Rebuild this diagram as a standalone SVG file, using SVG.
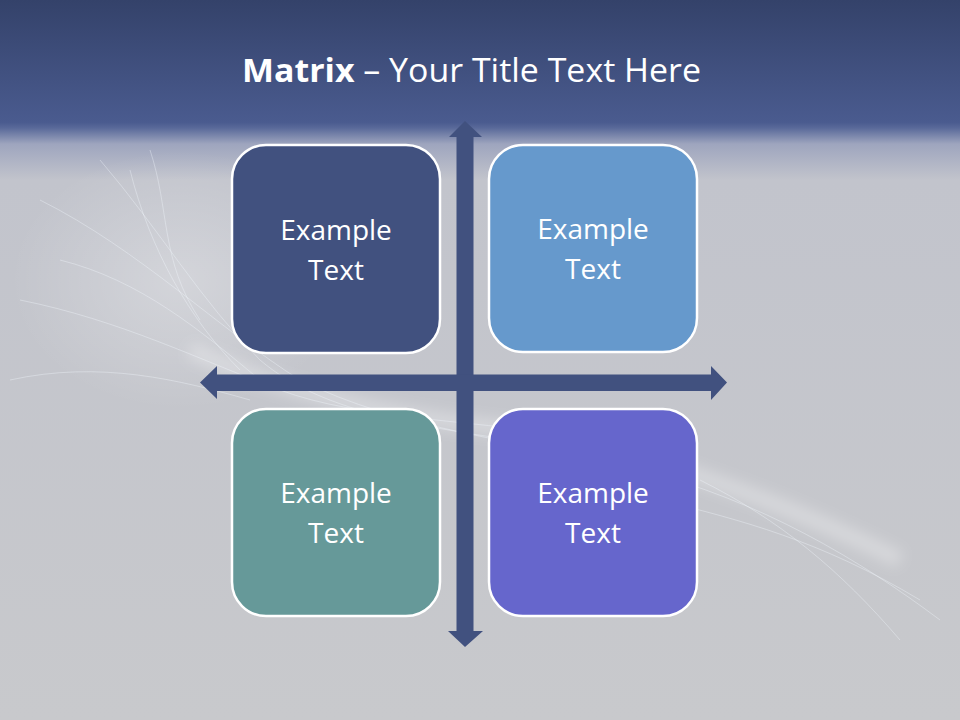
<svg xmlns="http://www.w3.org/2000/svg" width="960" height="720" viewBox="0 0 960 720">
<defs>
<linearGradient id="bg" x1="0" y1="0" x2="0" y2="1">
<stop offset="0" stop-color="#34426A"/>
<stop offset="0.17" stop-color="#4A5B8F"/>
<stop offset="0.178" stop-color="#5A6A9A"/>
<stop offset="0.2" stop-color="#9EA5BE"/>
<stop offset="0.25" stop-color="#C2C4CC"/>
<stop offset="1" stop-color="#C8C9CC"/>
</linearGradient>
<radialGradient id="glow" cx="0.5" cy="0.5" r="0.5">
<stop offset="0" stop-color="#FFFFFF" stop-opacity="0.55"/>
<stop offset="1" stop-color="#FFFFFF" stop-opacity="0"/>
</radialGradient>
<filter id="blur" x="-20%" y="-20%" width="140%" height="140%"><feGaussianBlur stdDeviation="7"/></filter>
<style>
.box{stroke:#FFFFFF;stroke-width:2.5}
.lbl{font-family:"Open Sans","Liberation Sans",sans-serif;font-size:28px;fill:#FFFFFF;text-anchor:middle}
.arrow{fill:#41517F}
.fib{fill:none;stroke:#F4F8FF;stroke-opacity:0.45;stroke-width:0.8}
</style>
</defs>
<rect width="960" height="720" fill="url(#bg)"/>
<g id="texture">
<ellipse cx="180" cy="280" rx="170" ry="130" fill="url(#glow)" opacity="0.5"/>
<path d="M190 350 C 300 400 420 420 520 430 C 640 450 780 500 900 560" fill="none" stroke="#FFFFFF" stroke-opacity="0.3" stroke-width="16" filter="url(#blur)"/>
<path d="M40 200 C 140 250 220 330 300 380 C 400 430 520 440 640 470 C 760 500 860 560 940 620" class="fib"/>
<path d="M100 160 C 160 230 200 300 260 360 C 330 420 450 430 580 450" class="fib"/>
<path d="M130 170 C 150 250 190 320 240 370" class="fib"/>
<path d="M20 300 C 120 320 200 360 280 390 C 360 420 480 420 600 440" class="fib"/>
<path d="M60 260 C 140 280 200 330 260 380" class="fib"/>
<path d="M150 150 C 170 210 160 260 200 320" class="fib"/>
<path d="M700 480 C 780 520 840 570 900 640" class="fib"/>
<path d="M660 500 C 740 520 820 540 920 600" class="fib"/>
<path d="M10 380 C 100 360 180 380 250 400" class="fib"/>
</g>
<text x="242" y="82" font-family="Open Sans,Liberation Sans,sans-serif" font-size="32" fill="#FFFFFF" textLength="459" lengthAdjust="spacingAndGlyphs"><tspan font-weight="bold">Matrix</tspan> – Your Title Text Here</text>
<g id="connectors">
<path class="arrow" d="M465 121 L482 137 L473.5 137 L473.5 631 L483 631 L465 647 L448 631 L456.5 631 L456.5 137 L449 137 Z"/>
<path class="arrow" d="M200 382.5 L217 366 L217 374.5 L711 374.5 L711 366 L727 382.5 L711 400 L711 391 L217 391 L217 399 Z"/>
</g>
<g id="node-tl"><rect class="box" x="232" y="145" width="208" height="208" rx="34" fill="#41517F"/><text class="lbl" x="336" y="240">Example</text><text class="lbl" x="336" y="280">Text</text></g>
<g id="node-tr"><rect class="box" x="489" y="145" width="208" height="207" rx="34" fill="#6699CC"/><text class="lbl" x="593" y="239">Example</text><text class="lbl" x="593" y="279">Text</text></g>
<g id="node-bl"><rect class="box" x="232" y="409" width="208" height="207" rx="34" fill="#669999"/><text class="lbl" x="336" y="503">Example</text><text class="lbl" x="336" y="543">Text</text></g>
<g id="node-br"><rect class="box" x="489" y="409" width="208" height="207" rx="34" fill="#6666CC"/><text class="lbl" x="593" y="503">Example</text><text class="lbl" x="593" y="543">Text</text></g>
</svg>
